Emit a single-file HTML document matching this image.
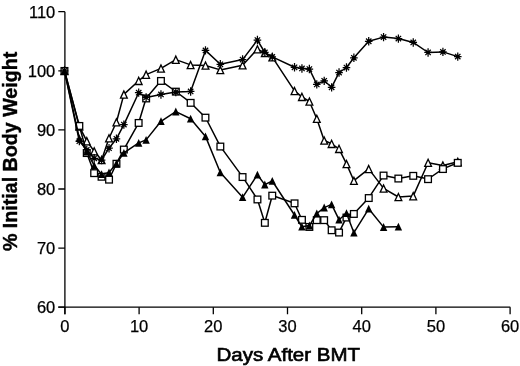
<!DOCTYPE html>
<html><head><meta charset="utf-8"><title>Body weight after BMT</title>
<style>
html,body{margin:0;padding:0;background:#fff}
svg{display:block}
text{font-family:"Liberation Sans",Arial,Helvetica,sans-serif;fill:#000}
.tk{font-size:16.5px;stroke:#000;stroke-width:0.25px}
.xt{font-size:18.8px;stroke:#000;stroke-width:0.65px}
.yt{font-size:19.65px;font-weight:bold;stroke:#000;stroke-width:0.4px}
</style></head><body>
<svg width="520" height="366" viewBox="0 0 520 366">
<rect width="520" height="366" fill="#fff"/>
<path d="M64.9 11.8V314.2M58.3 307.2H510.3" stroke="#000" stroke-width="1.3" fill="none"/>
<path d="M58.3 307.2H64.9M58.3 248.1H64.9M58.3 189.0H64.9M58.3 129.9H64.9M58.3 70.8H64.9M58.3 11.7H64.9M64.9 307.2V314.2M139.1 307.2V314.2M213.3 307.2V314.2M287.5 307.2V314.2M361.7 307.2V314.2M435.9 307.2V314.2M510.1 307.2V314.2" stroke="#000" stroke-width="1.3" fill="none"/>
<text x="55.3" y="313.4" text-anchor="end" class="tk">60</text>
<text x="55.3" y="254.3" text-anchor="end" class="tk">70</text>
<text x="55.3" y="195.2" text-anchor="end" class="tk">80</text>
<text x="55.3" y="136.1" text-anchor="end" class="tk">90</text>
<text x="55.3" y="77.0" text-anchor="end" class="tk">100</text>
<text x="55.3" y="17.9" text-anchor="end" class="tk">110</text>
<text x="64.9" y="332.3" text-anchor="middle" class="tk">0</text>
<text x="139.1" y="332.3" text-anchor="middle" class="tk">10</text>
<text x="213.3" y="332.3" text-anchor="middle" class="tk">20</text>
<text x="287.5" y="332.3" text-anchor="middle" class="tk">30</text>
<text x="361.7" y="332.3" text-anchor="middle" class="tk">40</text>
<text x="435.9" y="332.3" text-anchor="middle" class="tk">50</text>
<text x="510.1" y="332.3" text-anchor="middle" class="tk">60</text>
<text x="288.3" y="361.2" text-anchor="middle" class="xt" textLength="143.5" lengthAdjust="spacingAndGlyphs">Days After BMT</text>
<text transform="translate(16.6,151.4) rotate(-90)" text-anchor="middle" class="yt">% Initial Body Weight</text>
<polyline points="64.5,70.8 79.3,126.4 86.8,141.1 94.2,151.2 101.6,160.0 109.0,138.2 116.4,122.2 123.9,94.4 138.7,80.8 146.1,74.6 161.0,68.4 175.8,59.6 190.6,64.9 205.5,65.5 220.3,69.9 242.6,65.2 257.4,49.2 264.8,52.8 272.3,57.2 294.5,90.9 301.9,96.8 309.4,101.5 316.8,118.7 324.2,140.5 331.6,143.8 339.0,148.8 346.5,163.9 353.9,180.7 368.7,168.9 383.6,188.4 398.4,197.0 413.2,196.1 428.1,162.7 442.9,165.4 457.8,161.8" fill="none" stroke="#000" stroke-width="1.5" stroke-linejoin="round"/>
<polygon points="64.5,67.3 61.1,74.5 67.9,74.5" fill="#fff" stroke="#000" stroke-width="1.3"/>
<polygon points="79.3,122.9 75.9,130.1 82.7,130.1" fill="#fff" stroke="#000" stroke-width="1.3"/>
<polygon points="86.8,137.6 83.4,144.8 90.2,144.8" fill="#fff" stroke="#000" stroke-width="1.3"/>
<polygon points="94.2,147.7 90.8,154.9 97.6,154.9" fill="#fff" stroke="#000" stroke-width="1.3"/>
<polygon points="101.6,156.5 98.2,163.7 105.0,163.7" fill="#fff" stroke="#000" stroke-width="1.3"/>
<polygon points="109.0,134.7 105.6,141.9 112.4,141.9" fill="#fff" stroke="#000" stroke-width="1.3"/>
<polygon points="116.4,118.7 113.0,125.9 119.8,125.9" fill="#fff" stroke="#000" stroke-width="1.3"/>
<polygon points="123.9,90.9 120.5,98.1 127.3,98.1" fill="#fff" stroke="#000" stroke-width="1.3"/>
<polygon points="138.7,77.3 135.3,84.5 142.1,84.5" fill="#fff" stroke="#000" stroke-width="1.3"/>
<polygon points="146.1,71.1 142.7,78.3 149.5,78.3" fill="#fff" stroke="#000" stroke-width="1.3"/>
<polygon points="161.0,64.9 157.6,72.1 164.4,72.1" fill="#fff" stroke="#000" stroke-width="1.3"/>
<polygon points="175.8,56.1 172.4,63.3 179.2,63.3" fill="#fff" stroke="#000" stroke-width="1.3"/>
<polygon points="190.6,61.4 187.2,68.6 194.0,68.6" fill="#fff" stroke="#000" stroke-width="1.3"/>
<polygon points="205.5,62.0 202.1,69.2 208.9,69.2" fill="#fff" stroke="#000" stroke-width="1.3"/>
<polygon points="220.3,66.4 216.9,73.6 223.7,73.6" fill="#fff" stroke="#000" stroke-width="1.3"/>
<polygon points="242.6,61.7 239.2,68.9 246.0,68.9" fill="#fff" stroke="#000" stroke-width="1.3"/>
<polygon points="257.4,45.7 254.0,52.9 260.8,52.9" fill="#fff" stroke="#000" stroke-width="1.3"/>
<polygon points="264.8,49.3 261.4,56.5 268.2,56.5" fill="#fff" stroke="#000" stroke-width="1.3"/>
<polygon points="272.3,53.7 268.9,60.9 275.7,60.9" fill="#fff" stroke="#000" stroke-width="1.3"/>
<polygon points="294.5,87.4 291.1,94.6 297.9,94.6" fill="#fff" stroke="#000" stroke-width="1.3"/>
<polygon points="301.9,93.3 298.5,100.5 305.3,100.5" fill="#fff" stroke="#000" stroke-width="1.3"/>
<polygon points="309.4,98.0 306.0,105.2 312.8,105.2" fill="#fff" stroke="#000" stroke-width="1.3"/>
<polygon points="316.8,115.2 313.4,122.4 320.2,122.4" fill="#fff" stroke="#000" stroke-width="1.3"/>
<polygon points="324.2,137.0 320.8,144.2 327.6,144.2" fill="#fff" stroke="#000" stroke-width="1.3"/>
<polygon points="331.6,140.3 328.2,147.5 335.0,147.5" fill="#fff" stroke="#000" stroke-width="1.3"/>
<polygon points="339.0,145.3 335.6,152.5 342.4,152.5" fill="#fff" stroke="#000" stroke-width="1.3"/>
<polygon points="346.5,160.4 343.1,167.6 349.9,167.6" fill="#fff" stroke="#000" stroke-width="1.3"/>
<polygon points="353.9,177.2 350.5,184.4 357.3,184.4" fill="#fff" stroke="#000" stroke-width="1.3"/>
<polygon points="368.7,165.4 365.3,172.6 372.1,172.6" fill="#fff" stroke="#000" stroke-width="1.3"/>
<polygon points="383.6,184.9 380.2,192.1 387.0,192.1" fill="#fff" stroke="#000" stroke-width="1.3"/>
<polygon points="398.4,193.5 395.0,200.7 401.8,200.7" fill="#fff" stroke="#000" stroke-width="1.3"/>
<polygon points="413.2,192.6 409.8,199.8 416.6,199.8" fill="#fff" stroke="#000" stroke-width="1.3"/>
<polygon points="428.1,159.2 424.7,166.4 431.5,166.4" fill="#fff" stroke="#000" stroke-width="1.3"/>
<polygon points="442.9,161.9 439.5,169.1 446.3,169.1" fill="#fff" stroke="#000" stroke-width="1.3"/>
<polygon points="457.8,158.3 454.4,165.5 461.2,165.5" fill="#fff" stroke="#000" stroke-width="1.3"/>
<polyline points="64.5,70.8 79.3,125.8 86.8,152.9 94.2,173.0 101.6,176.6 109.0,179.5 116.4,163.6 123.9,149.4 138.7,122.8 146.1,98.3 161.0,80.8 175.8,91.5 190.6,102.7 205.5,117.5 220.3,146.4 242.6,176.9 257.4,199.3 264.8,222.7 272.3,195.5 294.5,203.2 301.9,219.7 309.4,226.8 316.8,220.0 324.2,220.0 331.6,230.1 339.0,232.4 346.5,217.4 353.9,213.8 368.7,197.9 383.6,175.4 398.4,178.4 413.2,175.7 428.1,179.0 442.9,168.9 457.8,162.7" fill="none" stroke="#000" stroke-width="1.5" stroke-linejoin="round"/>
<rect x="61.1" y="67.6" width="6.7" height="6.7" fill="#fff" stroke="#000" stroke-width="1.3"/>
<rect x="76.0" y="122.6" width="6.7" height="6.7" fill="#fff" stroke="#000" stroke-width="1.3"/>
<rect x="83.4" y="149.7" width="6.7" height="6.7" fill="#fff" stroke="#000" stroke-width="1.3"/>
<rect x="90.8" y="169.8" width="6.7" height="6.7" fill="#fff" stroke="#000" stroke-width="1.3"/>
<rect x="98.2" y="173.4" width="6.7" height="6.7" fill="#fff" stroke="#000" stroke-width="1.3"/>
<rect x="105.7" y="176.3" width="6.7" height="6.7" fill="#fff" stroke="#000" stroke-width="1.3"/>
<rect x="113.1" y="160.4" width="6.7" height="6.7" fill="#fff" stroke="#000" stroke-width="1.3"/>
<rect x="120.5" y="146.2" width="6.7" height="6.7" fill="#fff" stroke="#000" stroke-width="1.3"/>
<rect x="135.3" y="119.6" width="6.7" height="6.7" fill="#fff" stroke="#000" stroke-width="1.3"/>
<rect x="142.8" y="95.1" width="6.7" height="6.7" fill="#fff" stroke="#000" stroke-width="1.3"/>
<rect x="157.6" y="77.6" width="6.7" height="6.7" fill="#fff" stroke="#000" stroke-width="1.3"/>
<rect x="172.5" y="88.3" width="6.7" height="6.7" fill="#fff" stroke="#000" stroke-width="1.3"/>
<rect x="187.3" y="99.5" width="6.7" height="6.7" fill="#fff" stroke="#000" stroke-width="1.3"/>
<rect x="202.1" y="114.3" width="6.7" height="6.7" fill="#fff" stroke="#000" stroke-width="1.3"/>
<rect x="217.0" y="143.2" width="6.7" height="6.7" fill="#fff" stroke="#000" stroke-width="1.3"/>
<rect x="239.2" y="173.7" width="6.7" height="6.7" fill="#fff" stroke="#000" stroke-width="1.3"/>
<rect x="254.1" y="196.1" width="6.7" height="6.7" fill="#fff" stroke="#000" stroke-width="1.3"/>
<rect x="261.5" y="219.5" width="6.7" height="6.7" fill="#fff" stroke="#000" stroke-width="1.3"/>
<rect x="268.9" y="192.3" width="6.7" height="6.7" fill="#fff" stroke="#000" stroke-width="1.3"/>
<rect x="291.2" y="200.0" width="6.7" height="6.7" fill="#fff" stroke="#000" stroke-width="1.3"/>
<rect x="298.6" y="216.5" width="6.7" height="6.7" fill="#fff" stroke="#000" stroke-width="1.3"/>
<rect x="306.0" y="223.6" width="6.7" height="6.7" fill="#fff" stroke="#000" stroke-width="1.3"/>
<rect x="313.4" y="216.8" width="6.7" height="6.7" fill="#fff" stroke="#000" stroke-width="1.3"/>
<rect x="320.8" y="216.8" width="6.7" height="6.7" fill="#fff" stroke="#000" stroke-width="1.3"/>
<rect x="328.3" y="226.9" width="6.7" height="6.7" fill="#fff" stroke="#000" stroke-width="1.3"/>
<rect x="335.7" y="229.2" width="6.7" height="6.7" fill="#fff" stroke="#000" stroke-width="1.3"/>
<rect x="343.1" y="214.2" width="6.7" height="6.7" fill="#fff" stroke="#000" stroke-width="1.3"/>
<rect x="350.5" y="210.6" width="6.7" height="6.7" fill="#fff" stroke="#000" stroke-width="1.3"/>
<rect x="365.4" y="194.7" width="6.7" height="6.7" fill="#fff" stroke="#000" stroke-width="1.3"/>
<rect x="380.2" y="172.2" width="6.7" height="6.7" fill="#fff" stroke="#000" stroke-width="1.3"/>
<rect x="395.0" y="175.2" width="6.7" height="6.7" fill="#fff" stroke="#000" stroke-width="1.3"/>
<rect x="409.9" y="172.5" width="6.7" height="6.7" fill="#fff" stroke="#000" stroke-width="1.3"/>
<rect x="424.7" y="175.8" width="6.7" height="6.7" fill="#fff" stroke="#000" stroke-width="1.3"/>
<rect x="439.6" y="165.7" width="6.7" height="6.7" fill="#fff" stroke="#000" stroke-width="1.3"/>
<rect x="454.4" y="159.5" width="6.7" height="6.7" fill="#fff" stroke="#000" stroke-width="1.3"/>
<polyline points="64.5,70.8 79.3,138.2 86.8,151.8 94.2,165.4 101.6,174.2 109.0,172.5 116.4,163.6 123.9,152.9 138.7,142.9 146.1,139.9 161.0,121.3 175.8,111.6 190.6,118.7 205.5,136.4 220.3,172.5 242.6,197.3 257.4,174.8 264.8,184.6 272.3,181.0 294.5,215.0 301.9,226.8 309.4,225.6 316.8,213.5 324.2,207.6 331.6,204.4 339.0,219.7 346.5,213.2 353.9,232.7 368.7,208.8 383.6,227.1 398.4,226.8" fill="none" stroke="#000" stroke-width="1.5" stroke-linejoin="round"/>
<polygon points="64.5,66.8 60.8,74.6 68.2,74.6" fill="#000"/>
<polygon points="79.3,134.2 75.6,142.0 83.0,142.0" fill="#000"/>
<polygon points="86.8,147.8 83.1,155.6 90.5,155.6" fill="#000"/>
<polygon points="94.2,161.4 90.5,169.2 97.9,169.2" fill="#000"/>
<polygon points="101.6,170.2 97.9,178.0 105.3,178.0" fill="#000"/>
<polygon points="109.0,168.5 105.3,176.3 112.7,176.3" fill="#000"/>
<polygon points="116.4,159.6 112.7,167.4 120.1,167.4" fill="#000"/>
<polygon points="123.9,148.9 120.2,156.7 127.6,156.7" fill="#000"/>
<polygon points="138.7,138.9 135.0,146.7 142.4,146.7" fill="#000"/>
<polygon points="146.1,135.9 142.4,143.7 149.8,143.7" fill="#000"/>
<polygon points="161.0,117.3 157.3,125.1 164.7,125.1" fill="#000"/>
<polygon points="175.8,107.6 172.1,115.4 179.5,115.4" fill="#000"/>
<polygon points="190.6,114.7 186.9,122.5 194.3,122.5" fill="#000"/>
<polygon points="205.5,132.4 201.8,140.2 209.2,140.2" fill="#000"/>
<polygon points="220.3,168.5 216.6,176.3 224.0,176.3" fill="#000"/>
<polygon points="242.6,193.3 238.9,201.1 246.3,201.1" fill="#000"/>
<polygon points="257.4,170.8 253.7,178.6 261.1,178.6" fill="#000"/>
<polygon points="264.8,180.6 261.1,188.4 268.5,188.4" fill="#000"/>
<polygon points="272.3,177.0 268.6,184.8 276.0,184.8" fill="#000"/>
<polygon points="294.5,211.0 290.8,218.8 298.2,218.8" fill="#000"/>
<polygon points="301.9,222.8 298.2,230.6 305.6,230.6" fill="#000"/>
<polygon points="309.4,221.6 305.7,229.4 313.1,229.4" fill="#000"/>
<polygon points="316.8,209.5 313.1,217.3 320.5,217.3" fill="#000"/>
<polygon points="324.2,203.6 320.5,211.4 327.9,211.4" fill="#000"/>
<polygon points="331.6,200.4 327.9,208.2 335.3,208.2" fill="#000"/>
<polygon points="339.0,215.7 335.3,223.5 342.7,223.5" fill="#000"/>
<polygon points="346.5,209.2 342.8,217.0 350.2,217.0" fill="#000"/>
<polygon points="353.9,228.7 350.2,236.5 357.6,236.5" fill="#000"/>
<polygon points="368.7,204.8 365.0,212.6 372.4,212.6" fill="#000"/>
<polygon points="383.6,223.1 379.9,230.9 387.3,230.9" fill="#000"/>
<polygon points="398.4,222.8 394.7,230.6 402.1,230.6" fill="#000"/>
<polyline points="64.5,70.8 79.3,141.1 86.8,150.0 94.2,158.3 101.6,160.0 109.0,148.2 116.4,138.8 123.9,124.6 138.7,92.7 146.1,97.4 161.0,94.4 175.8,92.1 190.6,91.5 205.5,50.4 220.3,64.3 242.6,59.6 257.4,40.1 264.8,52.5 272.3,56.9 294.5,67.3 301.9,68.4 309.4,69.0 316.8,84.4 324.2,80.8 331.6,87.3 339.0,72.6 346.5,67.5 353.9,57.8 368.7,41.2 383.6,37.1 398.4,38.6 413.2,42.4 428.1,52.5 442.9,51.9 457.8,56.6" fill="none" stroke="#000" stroke-width="1.5" stroke-linejoin="round"/>
<path d="M60.70 70.80L68.30 70.80M61.81 68.11L67.19 73.49M64.50 66.60L64.50 75.00M67.19 68.11L61.81 73.49" stroke="#000" stroke-width="1.25" fill="none"/>
<circle cx="64.5" cy="70.8" r="1.8" fill="#000"/>
<path d="M75.54 141.13L83.14 141.13M76.65 138.44L82.03 143.82M79.34 136.93L79.34 145.33M82.03 138.44L76.65 143.82" stroke="#000" stroke-width="1.25" fill="none"/>
<circle cx="79.3" cy="141.1" r="1.8" fill="#000"/>
<path d="M82.96 149.99L90.56 149.99M84.07 147.31L89.45 152.68M86.76 145.79L86.76 154.19M89.45 147.31L84.07 152.68" stroke="#000" stroke-width="1.25" fill="none"/>
<circle cx="86.8" cy="150.0" r="1.8" fill="#000"/>
<path d="M90.38 158.27L97.98 158.27M91.49 155.58L96.87 160.96M94.18 154.07L94.18 162.47M96.87 155.58L91.49 160.96" stroke="#000" stroke-width="1.25" fill="none"/>
<circle cx="94.2" cy="158.3" r="1.8" fill="#000"/>
<path d="M97.80 160.04L105.40 160.04M98.91 157.35L104.29 162.73M101.60 155.84L101.60 164.24M104.29 157.35L98.91 162.73" stroke="#000" stroke-width="1.25" fill="none"/>
<circle cx="101.6" cy="160.0" r="1.8" fill="#000"/>
<path d="M105.22 148.22L112.82 148.22M106.33 145.53L111.71 150.91M109.02 144.02L109.02 152.42M111.71 145.53L106.33 150.91" stroke="#000" stroke-width="1.25" fill="none"/>
<circle cx="109.0" cy="148.2" r="1.8" fill="#000"/>
<path d="M112.64 138.76L120.24 138.76M113.75 136.08L119.13 141.45M116.44 134.56L116.44 142.96M119.13 136.08L113.75 141.45" stroke="#000" stroke-width="1.25" fill="none"/>
<circle cx="116.4" cy="138.8" r="1.8" fill="#000"/>
<path d="M120.06 124.58L127.66 124.58M121.17 121.89L126.55 127.27M123.86 120.38L123.86 128.78M126.55 121.89L121.17 127.27" stroke="#000" stroke-width="1.25" fill="none"/>
<circle cx="123.9" cy="124.6" r="1.8" fill="#000"/>
<path d="M134.90 92.67L142.50 92.67M136.01 89.98L141.39 95.35M138.70 88.47L138.70 96.87M141.39 89.98L136.01 95.35" stroke="#000" stroke-width="1.25" fill="none"/>
<circle cx="138.7" cy="92.7" r="1.8" fill="#000"/>
<path d="M142.32 97.39L149.92 97.39M143.43 94.71L148.81 100.08M146.12 93.19L146.12 101.59M148.81 94.71L143.43 100.08" stroke="#000" stroke-width="1.25" fill="none"/>
<circle cx="146.1" cy="97.4" r="1.8" fill="#000"/>
<path d="M157.16 94.44L164.76 94.44M158.27 91.75L163.65 97.13M160.96 90.24L160.96 98.64M163.65 91.75L158.27 97.13" stroke="#000" stroke-width="1.25" fill="none"/>
<circle cx="161.0" cy="94.4" r="1.8" fill="#000"/>
<path d="M172.00 92.08L179.60 92.08M173.11 89.39L178.49 94.76M175.80 87.88L175.80 96.28M178.49 89.39L173.11 94.76" stroke="#000" stroke-width="1.25" fill="none"/>
<circle cx="175.8" cy="92.1" r="1.8" fill="#000"/>
<path d="M186.84 91.48L194.44 91.48M187.95 88.80L193.33 94.17M190.64 87.28L190.64 95.68M193.33 88.80L187.95 94.17" stroke="#000" stroke-width="1.25" fill="none"/>
<circle cx="190.6" cy="91.5" r="1.8" fill="#000"/>
<path d="M201.68 50.41L209.28 50.41M202.79 47.72L208.17 53.10M205.48 46.21L205.48 54.61M208.17 47.72L202.79 53.10" stroke="#000" stroke-width="1.25" fill="none"/>
<circle cx="205.5" cy="50.4" r="1.8" fill="#000"/>
<path d="M216.52 64.30L224.12 64.30M217.63 61.61L223.01 66.99M220.32 60.10L220.32 68.50M223.01 61.61L217.63 66.99" stroke="#000" stroke-width="1.25" fill="none"/>
<circle cx="220.3" cy="64.3" r="1.8" fill="#000"/>
<path d="M238.78 59.57L246.38 59.57M239.89 56.88L245.27 62.26M242.58 55.37L242.58 63.77M245.27 56.88L239.89 62.26" stroke="#000" stroke-width="1.25" fill="none"/>
<circle cx="242.6" cy="59.6" r="1.8" fill="#000"/>
<path d="M253.62 40.07L261.22 40.07M254.73 37.38L260.11 42.76M257.42 35.87L257.42 44.27M260.11 37.38L254.73 42.76" stroke="#000" stroke-width="1.25" fill="none"/>
<circle cx="257.4" cy="40.1" r="1.8" fill="#000"/>
<path d="M261.04 52.48L268.64 52.48M262.15 49.79L267.53 55.17M264.84 48.28L264.84 56.68M267.53 49.79L262.15 55.17" stroke="#000" stroke-width="1.25" fill="none"/>
<circle cx="264.8" cy="52.5" r="1.8" fill="#000"/>
<path d="M268.46 56.91L276.06 56.91M269.57 54.22L274.95 59.60M272.26 52.71L272.26 61.11M274.95 54.22L269.57 59.60" stroke="#000" stroke-width="1.25" fill="none"/>
<circle cx="272.3" cy="56.9" r="1.8" fill="#000"/>
<path d="M290.72 67.25L298.32 67.25M291.83 64.57L297.21 69.94M294.52 63.05L294.52 71.45M297.21 64.57L291.83 69.94" stroke="#000" stroke-width="1.25" fill="none"/>
<circle cx="294.5" cy="67.3" r="1.8" fill="#000"/>
<path d="M298.14 68.44L305.74 68.44M299.25 65.75L304.63 71.12M301.94 64.24L301.94 72.64M304.63 65.75L299.25 71.12" stroke="#000" stroke-width="1.25" fill="none"/>
<circle cx="301.9" cy="68.4" r="1.8" fill="#000"/>
<path d="M305.56 69.03L313.16 69.03M306.67 66.34L312.05 71.71M309.36 64.83L309.36 73.23M312.05 66.34L306.67 71.71" stroke="#000" stroke-width="1.25" fill="none"/>
<circle cx="309.4" cy="69.0" r="1.8" fill="#000"/>
<path d="M312.98 84.39L320.58 84.39M314.09 81.71L319.47 87.08M316.78 80.19L316.78 88.59M319.47 81.71L314.09 87.08" stroke="#000" stroke-width="1.25" fill="none"/>
<circle cx="316.8" cy="84.4" r="1.8" fill="#000"/>
<path d="M320.40 80.85L328.00 80.85M321.51 78.16L326.89 83.53M324.20 76.65L324.20 85.05M326.89 78.16L321.51 83.53" stroke="#000" stroke-width="1.25" fill="none"/>
<circle cx="324.2" cy="80.8" r="1.8" fill="#000"/>
<path d="M327.82 87.35L335.42 87.35M328.93 84.66L334.31 90.04M331.62 83.15L331.62 91.55M334.31 84.66L328.93 90.04" stroke="#000" stroke-width="1.25" fill="none"/>
<circle cx="331.6" cy="87.3" r="1.8" fill="#000"/>
<path d="M335.24 72.57L342.84 72.57M336.35 69.89L341.73 75.26M339.04 68.37L339.04 76.77M341.73 69.89L336.35 75.26" stroke="#000" stroke-width="1.25" fill="none"/>
<circle cx="339.0" cy="72.6" r="1.8" fill="#000"/>
<path d="M342.66 67.55L350.26 67.55M343.77 64.86L349.15 70.24M346.46 63.35L346.46 71.75M349.15 64.86L343.77 70.24" stroke="#000" stroke-width="1.25" fill="none"/>
<circle cx="346.5" cy="67.5" r="1.8" fill="#000"/>
<path d="M350.08 57.80L357.68 57.80M351.19 55.11L356.57 60.49M353.88 53.60L353.88 62.00M356.57 55.11L351.19 60.49" stroke="#000" stroke-width="1.25" fill="none"/>
<circle cx="353.9" cy="57.8" r="1.8" fill="#000"/>
<path d="M364.92 41.25L372.52 41.25M366.03 38.56L371.41 43.94M368.72 37.05L368.72 45.45M371.41 38.56L366.03 43.94" stroke="#000" stroke-width="1.25" fill="none"/>
<circle cx="368.7" cy="41.2" r="1.8" fill="#000"/>
<path d="M379.76 37.11L387.36 37.11M380.87 34.43L386.25 39.80M383.56 32.91L383.56 41.31M386.25 34.43L380.87 39.80" stroke="#000" stroke-width="1.25" fill="none"/>
<circle cx="383.6" cy="37.1" r="1.8" fill="#000"/>
<path d="M394.60 38.59L402.20 38.59M395.71 35.90L401.09 41.28M398.40 34.39L398.40 42.79M401.09 35.90L395.71 41.28" stroke="#000" stroke-width="1.25" fill="none"/>
<circle cx="398.4" cy="38.6" r="1.8" fill="#000"/>
<path d="M409.44 42.43L417.04 42.43M410.55 39.74L415.93 45.12M413.24 38.23L413.24 46.63M415.93 39.74L410.55 45.12" stroke="#000" stroke-width="1.25" fill="none"/>
<circle cx="413.2" cy="42.4" r="1.8" fill="#000"/>
<path d="M424.28 52.48L431.88 52.48M425.39 49.79L430.77 55.17M428.08 48.28L428.08 56.68M430.77 49.79L425.39 55.17" stroke="#000" stroke-width="1.25" fill="none"/>
<circle cx="428.1" cy="52.5" r="1.8" fill="#000"/>
<path d="M439.12 51.89L446.72 51.89M440.23 49.20L445.61 54.58M442.92 47.69L442.92 56.09M445.61 49.20L440.23 54.58" stroke="#000" stroke-width="1.25" fill="none"/>
<circle cx="442.9" cy="51.9" r="1.8" fill="#000"/>
<path d="M453.96 56.62L461.56 56.62M455.07 53.93L460.45 59.30M457.76 52.42L457.76 60.82M460.45 53.93L455.07 59.30" stroke="#000" stroke-width="1.25" fill="none"/>
<circle cx="457.8" cy="56.6" r="1.8" fill="#000"/>
</svg>
</body></html>
